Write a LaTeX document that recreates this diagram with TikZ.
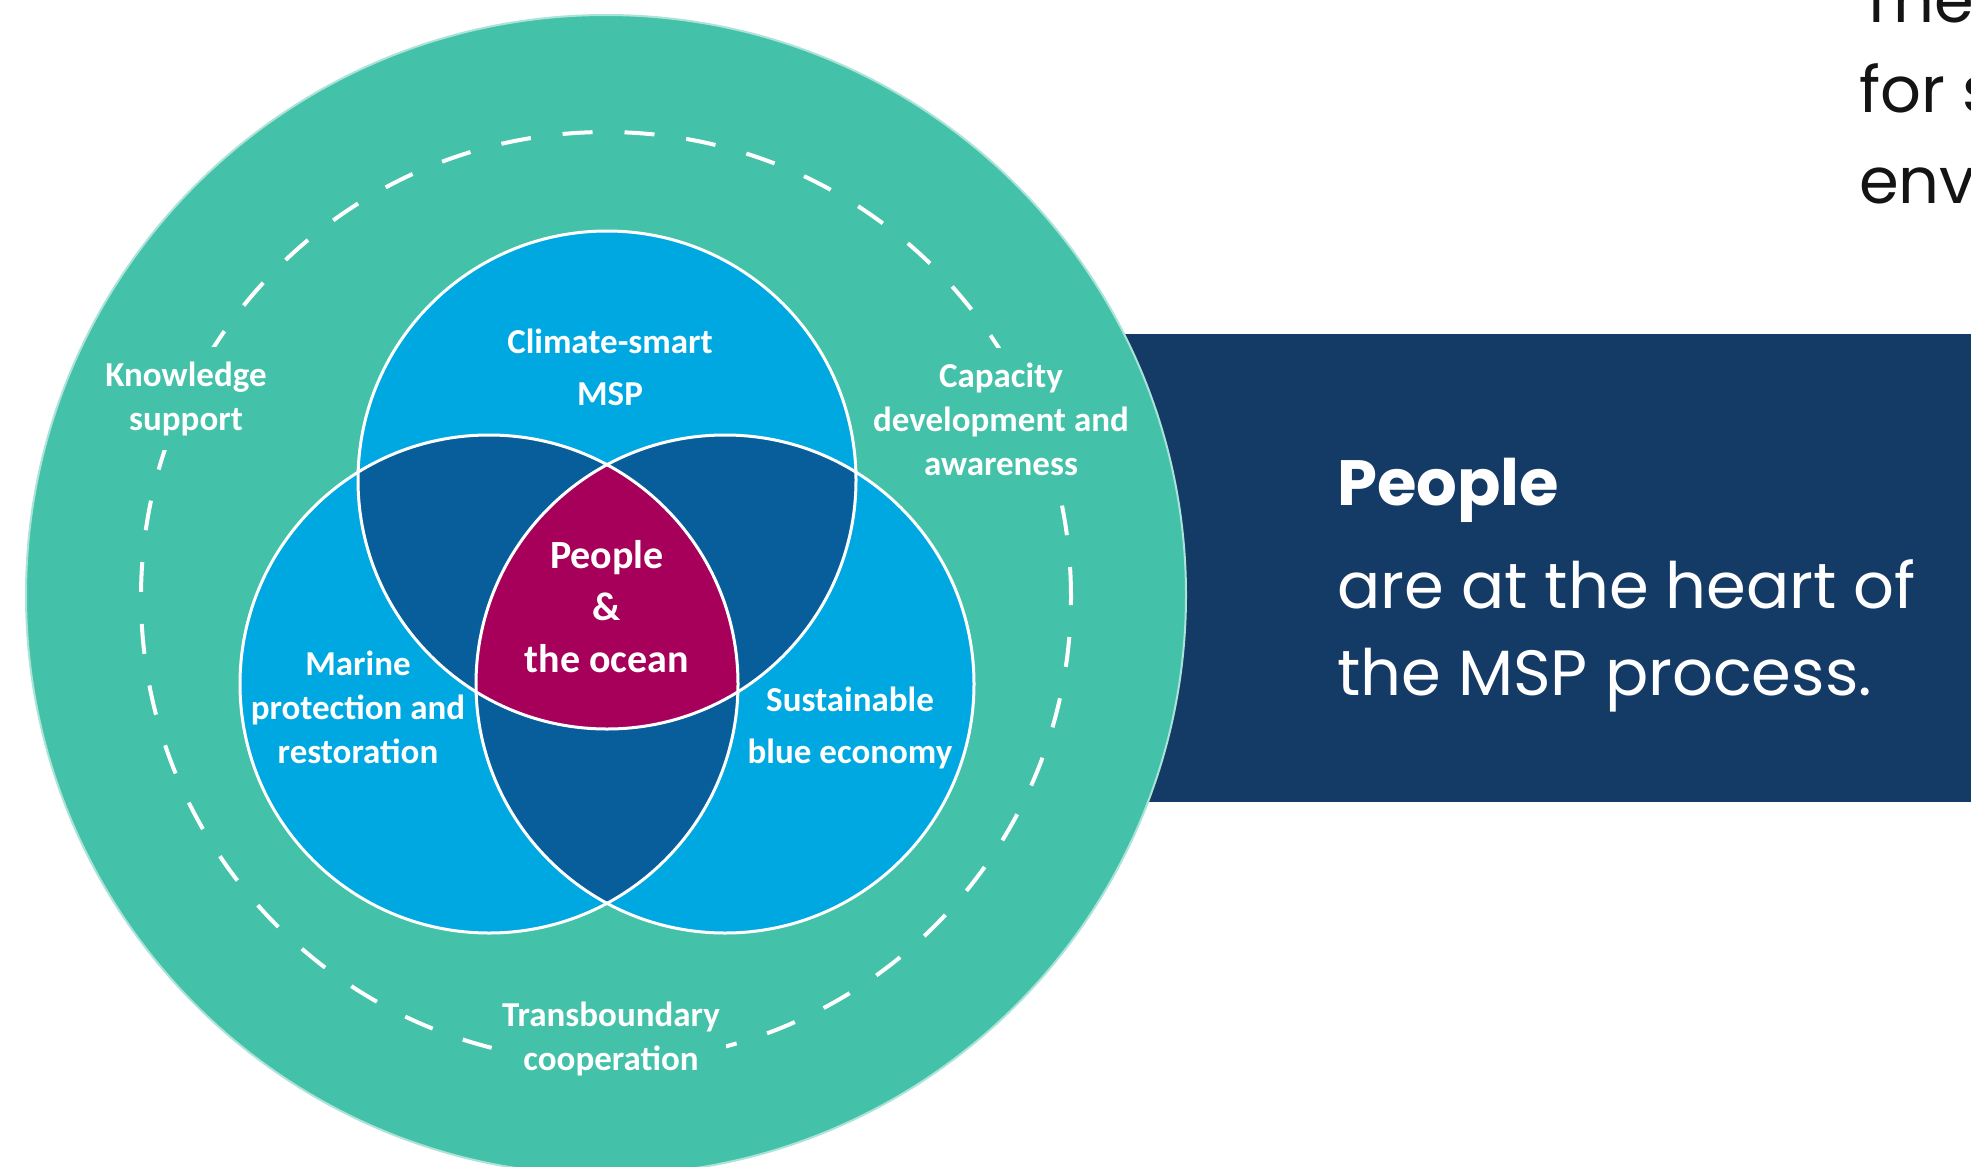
\documentclass[tikz,border=0pt]{standalone}
\usepackage{fontspec}
\setmainfont{Carlito}
\newfontfamily\sidefont{Poppins}
\definecolor{tealc}{RGB}{68,193,169}
\definecolor{lblue}{RGB}{0,168,225}
\definecolor{dblue}{RGB}{8,94,155}
\definecolor{magc}{RGB}{166,0,90}
\definecolor{navy}{RGB}{20,58,102}
\definecolor{ink}{RGB}{20,20,20}
\tikzset{
  lbl/.style={text=white, font=\bfseries\fontsize{35}{44}\selectfont, align=center, inner sep=0pt},
  ringlbl/.style={lbl, fill=tealc, inner xsep=6pt, inner ysep=14pt},
  side/.style={anchor=base west, text=white, inner sep=0pt, font=\sidefont\fontsize{64}{87}\selectfont},
  topt/.style={anchor=base west, text=ink, inner sep=0pt, font=\sidefont\fontsize{64}{87}\selectfont},
  venn/.style={line width=3pt, draw=white}
}
\begin{document}
\begin{tikzpicture}[x=1pt,y=-1pt]
\useasboundingbox (0,0) rectangle (1971,1167);
\clip (0,0) rectangle (1971,1167);
% navy band
\fill[navy] (900,334) rectangle (1971,802);
% outer ring
\coordinate (oc) at (606,595);
\coordinate (dc) at (606,597);
\fill[tealc] (oc) circle[radius=580pt];
\draw[white!55!tealc, line width=2pt] (oc) circle[radius=580pt];
\draw[white, line width=4pt, dash pattern=on 30pt off 32pt] (dc) circle[radius=465pt];
% labels on ring (backgrounds kept inside the ring, under the Venn circles)
\begin{scope}
  \clip (oc) circle[radius=578pt];
  \node[ringlbl, anchor=base] (know) at (186,430) {Knowledge\\support};
  \node[ringlbl, anchor=base] (cap) at (1001,475) {Capacity\\development and\\awareness};
  \node[ringlbl, anchor=base] (trans) at (611,1070) {Transboundary\\cooperation};
\end{scope}
% venn
\coordinate (ctop) at (607,480);
\coordinate (cleft) at (489,684);
\coordinate (cright) at (725,684);
\fill[lblue] (ctop) circle[radius=249pt];
\fill[lblue] (cleft) circle[radius=249pt];
\fill[lblue] (cright) circle[radius=249pt];
\begin{scope}
  \clip (ctop) circle[radius=249pt];
  \fill[dblue] (cleft) circle[radius=249pt];
  \fill[dblue] (cright) circle[radius=249pt];
\end{scope}
\begin{scope}
  \clip (cleft) circle[radius=249pt];
  \fill[dblue] (cright) circle[radius=249pt];
\end{scope}
\begin{scope}
  \clip (ctop) circle[radius=249pt];
  \clip (cleft) circle[radius=249pt];
  \fill[magc] (cright) circle[radius=249pt];
\end{scope}
\draw[venn] (ctop) circle[radius=249pt];
\draw[venn] (cleft) circle[radius=249pt];
\draw[venn] (cright) circle[radius=249pt];
% venn labels
\node[lbl, anchor=base, font=\bfseries\fontsize{35}{52}\selectfont] (clim) at (610,405) {Climate-smart\\MSP};
\node[lbl, anchor=base] (mar) at (358,763) {Marine\\protection and\\restoration};
\node[lbl, anchor=base, font=\bfseries\fontsize{35}{52}\selectfont] (sus) at (850,763) {Sustainable\\blue economy};
\node[lbl, anchor=base, font=\bfseries\fontsize{40}{52}\selectfont] (ppl) at (607,672) {People\\\&\\the ocean};
% side text
\node[side, font=\sidefont\bfseries\fontsize{64}{87}\selectfont] (s1) at (1337,505) {People};
\node[side] (s2) at (1337,608) {are at the heart of};
\node[side] (s3) at (1337,695) {the MSP process.};
% top right text (cut off by the picture's edge, as in the source)
\node[topt] (t1) at (1859,22) {The};
\node[topt] (t2) at (1859,112) {for s};
\node[topt] (t3) at (1859,203) {env};
\end{tikzpicture}
\end{document}
